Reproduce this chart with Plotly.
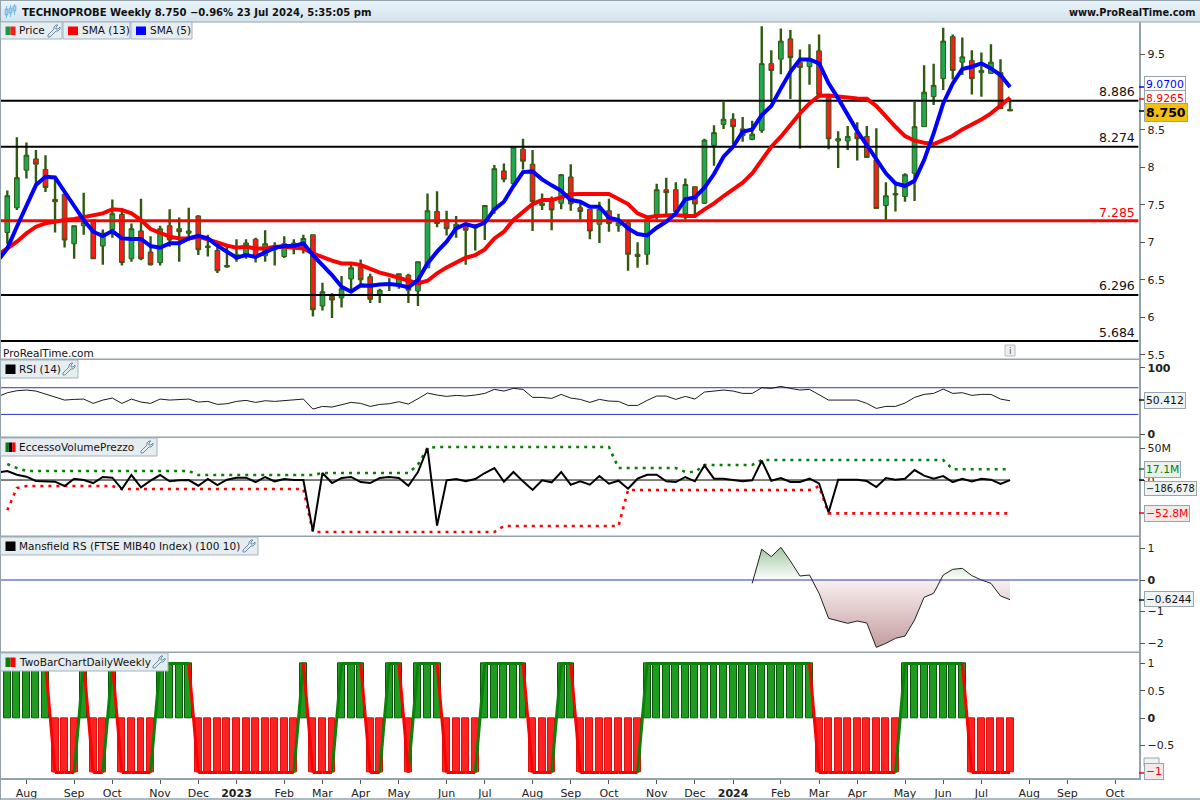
import numpy as np
import pandas as pd
import plotly.graph_objects as go
from plotly.subplots import make_subplots

FIRST_WEEK = "2022-07-18"
open_ = [7.13,7.46,7.96,8.11,7.97,7.57,7.64,6.98,7.22,7.30,
6.95,7.17,7.37,6.78,7.15,6.87,6.73,7.22,7.18,7.12,
7.35,6.93,6.89,6.67,6.78,6.84,7.04,6.82,6.90,6.81,
6.96,6.92,7.10,6.15,6.28,6.26,6.51,6.67,6.54,6.31,
6.43,6.42,6.56,6.35,6.66,7.41,7.30,7.18,7.22,7.19,
7.27,7.43,7.95,7.78,8.24,8.04,7.49,7.54,7.52,7.87,
7.46,7.44,7.24,7.42,7.22,7.26,6.84,6.84,7.36,7.70,
7.70,7.38,7.74,7.52,8.29,8.57,8.64,8.51,8.37,8.49,
9.38,9.44,9.71,9.40,9.34,9.55,8.96,8.35,8.35,8.46,
8.41,8.10,7.49,7.65,7.61,7.92,8.54,8.94,9.18,9.74,
9.40,9.42,9.26,9.25,9.26,8.77]
high = [7.69,8.40,8.33,8.23,8.16,7.87,7.64,7.22,7.66,7.30,
7.17,7.57,7.44,7.25,7.58,7.08,7.22,7.44,7.33,7.46,
7.36,7.10,6.94,6.94,7.04,7.04,7.06,7.16,7.00,7.08,
7.04,7.10,7.10,6.46,6.32,6.55,6.70,6.77,6.58,6.38,
6.52,6.58,6.58,6.74,7.65,7.68,7.42,7.35,7.26,7.24,
7.49,8.03,8.05,8.27,8.38,8.23,7.65,7.61,7.91,8.04,
7.52,7.44,7.54,7.58,7.38,7.27,7.00,7.30,7.78,7.86,
7.80,7.85,7.74,8.38,8.56,8.87,8.72,8.67,8.62,9.88,
9.56,9.85,9.83,9.57,9.64,9.77,8.96,8.48,8.55,8.60,
8.55,8.52,7.80,7.81,7.92,8.87,9.36,9.38,9.86,9.77,
9.73,9.56,9.53,9.64,9.44,8.92]
low = [6.98,7.43,7.85,7.76,7.67,7.13,6.93,6.78,7.10,6.78,
6.70,7.06,6.69,6.74,6.76,6.69,6.69,6.94,6.74,7.02,
6.83,6.81,6.59,6.66,6.74,6.78,6.73,6.74,6.69,6.79,
6.84,6.85,6.01,6.09,5.99,6.13,6.34,6.43,6.19,6.19,
6.35,6.38,6.19,6.15,6.66,7.20,7.09,7.06,6.70,6.89,
7.03,7.38,7.80,7.78,7.97,7.15,7.43,7.16,7.44,7.42,
7.30,7.04,6.99,7.14,7.14,6.62,6.66,6.70,7.30,7.36,
7.34,7.30,7.36,7.51,8.02,8.51,8.31,8.34,8.36,8.46,
8.87,9.24,8.91,8.25,9.10,8.97,8.24,7.99,8.23,8.09,
8.13,7.45,7.30,7.41,7.54,7.55,8.54,8.83,9.03,9.17,
9.23,8.97,8.94,9.25,8.78,8.75]
close = [7.62,7.86,8.16,8.04,7.73,7.54,7.03,7.22,7.26,6.78,
7.12,7.38,6.73,7.18,6.78,6.70,7.18,7.03,7.14,7.15,
6.90,6.95,6.62,6.69,6.84,6.99,6.81,6.98,6.93,6.98,
6.99,7.05,6.10,6.34,6.23,6.38,6.66,6.50,6.24,6.36,
6.45,6.58,6.36,6.74,7.42,7.25,7.18,7.24,7.16,7.22,
7.49,7.98,7.84,8.27,8.08,7.54,7.52,7.43,7.90,7.51,
7.41,7.15,7.44,7.25,7.26,6.84,6.81,7.30,7.70,7.66,
7.41,7.77,7.51,8.36,8.46,8.64,8.54,8.42,8.44,9.38,
9.29,9.68,9.46,9.33,9.43,8.97,8.38,8.38,8.41,8.38,
8.13,7.45,7.62,7.63,7.90,8.54,9.00,9.09,9.68,9.29,
9.47,9.18,9.29,9.40,8.78,8.75]
# moving averages: first value belongs to the week before the first candle
sma5 = [6.75,6.918,7.207,7.473,7.762,7.873,7.864,7.673,7.473,7.296,7.140,
7.082,7.149,7.051,7.043,7.043,6.949,6.927,6.985,6.985,7.051,
7.087,7.051,6.954,6.874,6.794,6.829,6.803,6.865,6.927,6.949,
6.949,6.985,6.829,6.696,6.563,6.407,6.341,6.425,6.421,6.438,
6.443,6.429,6.398,6.496,6.718,6.874,7.007,7.185,7.243,7.207,
7.260,7.438,7.540,7.749,7.935,7.944,7.838,7.758,7.686,7.562,
7.540,7.473,7.473,7.327,7.296,7.185,7.109,7.091,7.194,7.273,
7.384,7.571,7.598,7.726,7.909,8.140,8.273,8.473,8.504,8.695,
8.815,9.050,9.272,9.436,9.436,9.383,9.117,8.917,8.695,8.481,
8.295,8.095,7.918,7.784,7.749,7.820,8.095,8.450,8.850,9.117,
9.308,9.339,9.383,9.317,9.228,9.070]
sma13 = [6.83,6.918,7.007,7.118,7.207,7.251,7.278,7.296,7.309,7.331,7.349,
7.384,7.438,7.429,7.384,7.296,7.176,7.118,7.074,7.051,7.051,
7.074,7.029,6.998,6.954,6.927,6.940,6.918,6.918,6.940,6.940,
6.931,6.918,6.851,6.798,6.754,6.718,6.718,6.696,6.638,6.594,
6.563,6.527,6.487,6.452,6.487,6.585,6.665,6.732,6.794,6.829,
6.905,7.051,7.140,7.296,7.407,7.509,7.562,7.562,7.598,7.638,
7.642,7.642,7.651,7.642,7.576,7.509,7.384,7.331,7.349,7.362,
7.362,7.349,7.349,7.438,7.518,7.616,7.704,7.793,7.918,8.095,
8.273,8.406,8.562,8.717,8.850,8.952,8.957,8.939,8.930,8.917,
8.912,8.815,8.673,8.539,8.415,8.353,8.326,8.308,8.362,8.419,
8.504,8.566,8.637,8.717,8.815,8.9265]
levels = [8.886, 8.274, 7.285, 6.296, 5.684]
level_labels = ["8.886", "8.274", "7.285", "6.296", "5.684"]
# RSI and the volume-price line also start one week before the first candle
rsi = [56.5,62.5,65.5,66.5,65,60.5,57,51.5,52.5,53,46.5,51.5,54.5,46.5,53,48.5,46.5,53,51.5,52.5,53,
48.5,49.5,45,46,49.5,51,48,50.5,49.5,51,51.5,53,38,42,41,44,48,46.5,42,45,
46,49,45.5,53.5,62,59,57,58.5,57.5,59,61.5,67.5,65,69,67.5,55.5,55.5,54,60,54.5,
52.5,48,52.5,50,49.5,43.5,43.5,51,57.5,57.5,52.5,57,53,63.5,65,66.5,65,61.5,61.5,70,
69,72,69,66.5,67.5,59,51.5,51.5,51.5,51.5,46.5,39,42,42,47,55.5,60,61.5,68,61.5,
62.5,58.5,60,60,53,50.412]
evp = [12.1,14.3,8.4,5.3,-1.6,-2.1,-2.6,-9.5,2.1,0,-4.8,4.8,3.7,-14.3,7.9,-11.6,-1.1,7.9,-2.1,-0.5,0,
-9.0,1.6,-7.9,0.5,3.7,3.7,-3.2,4.8,-2.1,1.6,0,0,-81.3,11.1,-4.8,3.2,4.8,-3.2,-4.8,3.2,
4.8,3.2,-9.0,12.7,50.7,-72.3,-0.5,1.6,-2.1,1.6,11.1,19.0,-2.6,12.7,-2.1,-15.8,-0.5,-3.7,12.7,-7.4,
-2.1,-7.4,6.3,-5.8,-1.1,-13.7,2.1,8.4,8.4,-2.1,-3.2,4.8,-2.1,23.2,2.1,2.1,0,-2.1,-0.5,30.6,
-1.1,3.2,-3.2,-3.2,2.1,-5.3,-51.2,0.5,0.5,0.5,-1.6,-11.1,3.2,0.5,2.1,15.8,6.9,2.1,6.3,-3.2,
2.1,-2.1,2.1,0.5,-6.3,-0.187]
evp_upper = [25.3,19.0]+[14.3]*18+[7.9]*13+[11.1]*10+[24.3,50.7]+[52.3]*19+[19.0]*7+[12.7]*2+[23.8]*6+[31.7]*20+[17.1]*7
evp_lower = [-48.0,-12.7]+[-9.5]*10+[-14.3]*20+[-82.4]*20+[-72.9]*13+[-15.8]*20+[-10.0]+[-52.8]*20
mansfield_first_week = 78
mansfield = [-0.106,0.974,0.741,1.037,0.603,0.127,0.159,-0.423,-1.217,-1.302,-1.376,-1.302,-1.365,-2.138,
-2.011,-1.852,-1.778,-1.270,-0.550,-0.423,0.159,0.339,0.370,0.138,0,-0.106,-0.508,-0.6244]
two_bar = [1]*5+[-1]*3+[1]+[-1]*2+[1]+[-1]*4+[1]*4+[-1]*11+[1]+[-1]*3+[1]*3+[-1]*2+[1]*2+[-1]+[1]*3+[-1]*4+[1]*5+[-1]*3+[1]*2+[-1]*7+[1]*18+[-1]*9+[1]*7+[-1]*5
month_ticks = ["2022-08-01","2022-09-05","2022-10-03","2022-11-07","2022-12-05","2023-01-02","2023-02-06","2023-03-06",
"2023-04-03","2023-05-01","2023-06-05","2023-07-03","2023-08-07","2023-09-04","2023-10-02","2023-11-06","2023-12-04",
"2024-01-01","2024-02-05","2024-03-04","2024-04-01","2024-05-06","2024-06-03","2024-07-01","2024-08-05","2024-09-02","2024-10-07"]
month_labels = ["Aug","Sep","Oct","Nov","Dec","<b>2023</b>","Feb","Mar","Apr","May","Jun","Jul","Aug","Sep","Oct","Nov","Dec",
"<b>2024</b>","Feb","Mar","Apr","May","Jun","Jul","Aug","Sep","Oct"]

FONT = "DejaVu Sans"
W, H = 1200, 800
FIG_H = 804
def fx(p): return p / W
def fy(p): return 1 - p / H

dates = pd.date_range(FIRST_WEEK, periods=len(close), freq="7D")
lead_dates = pd.date_range(dates[0] - pd.Timedelta(days=7), periods=len(sma5), freq="7D")
week_px = 9.55
day0 = dates[0]
x_left = day0 - pd.Timedelta(days=7 * (7.3 - 1.0) / week_px)
x_right = day0 + pd.Timedelta(days=7 * (1138.6 - 7.3) / week_px)

fig = make_subplots(rows=5, cols=1, shared_xaxes=True)

# price panel
o, h, l, c = map(np.array, (open_, high, low, close))
top = np.maximum(o, c); bot = np.minimum(o, c)
wx, wy = [], []
for d, hi, lo, t, b in zip(dates, h, l, top, bot):
    wx += [d, d, None, d, d, None]
    wy += [hi, t, None, b, lo, None]
WICK = "#2f5a10"
fig.add_trace(go.Candlestick(x=dates, open=o, high=top, low=bot, close=c, whiskerwidth=0,
    increasing=dict(fillcolor="#1fa84f", line=dict(color=WICK, width=1)),
    decreasing=dict(fillcolor="#ff1a1a", line=dict(color=WICK, width=1)), showlegend=False), row=1, col=1)
fig.add_trace(go.Scatter(x=wx, y=wy, mode="lines", line=dict(color=WICK, width=2.4), showlegend=False), row=1, col=1)
for lv in levels:
    fig.add_trace(go.Scatter(x=[x_left, x_right], y=[lv, lv], mode="lines",
        line=dict(color="#ff0000" if lv == 7.285 else "#000000", width=3 if lv == 7.285 else 2), showlegend=False), row=1, col=1)
fig.add_trace(go.Scatter(x=lead_dates, y=sma13, mode="lines", line=dict(color="#ff0000", width=4), showlegend=False), row=1, col=1)
fig.add_trace(go.Scatter(x=lead_dates, y=sma5, mode="lines", line=dict(color="#0000ff", width=4), showlegend=False), row=1, col=1)

# RSI panel
for lv in (70, 30):
    fig.add_trace(go.Scatter(x=[x_left, x_right], y=[lv, lv], mode="lines", line=dict(color="#2b35c8", width=1), showlegend=False), row=2, col=1)
fig.add_trace(go.Scatter(x=lead_dates, y=rsi, mode="lines", line=dict(color="#000000", width=0.9), showlegend=False), row=2, col=1)

# volume-price excess panel
fig.add_trace(go.Scatter(x=[x_left, dates[-1]], y=[0, 0], mode="lines", line=dict(color="#000000", width=1), showlegend=False), row=3, col=1)
fig.add_trace(go.Scatter(x=dates, y=evp_upper, mode="lines", line=dict(color="#0a7d0a", width=2.6, dash="3px,5px"), showlegend=False), row=3, col=1)
fig.add_trace(go.Scatter(x=dates, y=evp_lower, mode="lines", line=dict(color="#ff0000", width=2.6, dash="3px,5px"), showlegend=False), row=3, col=1)
fig.add_trace(go.Scatter(x=lead_dates, y=evp, mode="lines", line=dict(color="#000000", width=2), showlegend=False), row=3, col=1)

# Mansfield panel
mdates = dates[mansfield_first_week:]
m = np.array(mansfield)
fig.add_trace(go.Scatter(x=mdates, y=np.maximum(m, 0), mode="none", fill="tozeroy",
    fillgradient=dict(type="vertical", start=0, stop=1.05, colorscale=[[0, "#ffffff"], [1, "#9fc8a0"]]), showlegend=False), row=4, col=1)
fig.add_trace(go.Scatter(x=mdates, y=np.minimum(m, 0), mode="none", fill="tozeroy",
    fillgradient=dict(type="vertical", start=-2.15, stop=0, colorscale=[[0, "#c49b9b"], [1, "#f8f0f0"]]), showlegend=False), row=4, col=1)
fig.add_trace(go.Scatter(x=[x_left, x_right], y=[0, 0], mode="lines", line=dict(color="#2b35c8", width=1), showlegend=False), row=4, col=1)
fig.add_trace(go.Scatter(x=mdates, y=m, mode="lines", line=dict(color="#222222", width=1), showlegend=False), row=4, col=1)

# two-bar panel
tb = np.array(two_bar)
fig.add_trace(go.Bar(x=dates, y=tb, width=0.73 * 7 * 86400000,
    marker=dict(color=np.where(tb > 0, "#1f9c1f", "#ff2222"),
                line=dict(color=np.where(tb > 0, "#0b540b", "#dd1010"), width=1)), showlegend=False), row=5, col=1)
gx, gy, rx, ry = [], [], [], []
for i in range(1, len(tb)):
    if tb[i] > 0:
        gx += [dates[i-1], dates[i], None]; gy += [tb[i-1], tb[i], None]
    else:
        rx += [dates[i-1], dates[i], None]; ry += [tb[i-1], tb[i], None]
fig.add_trace(go.Scatter(x=gx, y=gy, mode="lines", line=dict(color="#0a820a", width=3), showlegend=False), row=5, col=1)
fig.add_trace(go.Scatter(x=rx, y=ry, mode="lines", line=dict(color="#ff0000", width=3), showlegend=False), row=5, col=1)

GRID = "#94a3ab"
panels = [(22, 359.3), (359.3, 437.3), (437.3, 536.3), (536.3, 652.3), (652.3, 778.3)]
ranges = [(5.440, 9.935), (-4.3, 112.6), (-89.2, 67.7), (-2.295, 1.387), (-1.106, 1.205)]
ytv = [[9.5, 8.5, 8, 7.5, 7, 6.5, 6, 5.5], [100, 0], [50, 0], [1, 0, -1, -2], [1, 0.5, 0, -0.5]]
ytt = [["9.5", "8.5", "8", "7.5", "7", "6.5", "6", "5.5"], ["<b>100</b>", "<b>0</b>"], ["50M", "0"],
       ["1", "<b>0</b>", "−1", "−2"], ["1", "0.5", "<b>0</b>", "−0.5"]]
for i in range(5):
    a, b = panels[i]
    fig.update_yaxes(row=i+1, col=1, domain=[fy(b), fy(a)], range=list(ranges[i]), side="right",
        tickmode="array", tickvals=ytv[i], ticktext=ytt[i], ticks="outside", ticklen=5, tickcolor="#555555",
        tickfont=dict(family=FONT, size=11, color="#222222"), showgrid=False, zeroline=False,
        showline=True, linecolor=GRID, linewidth=1.5, fixedrange=True)
    fig.update_xaxes(row=i+1, col=1, domain=[fx(1), fx(1138.6)], range=[x_left, x_right], showgrid=False,
        zeroline=False, showline=False, rangeslider=dict(visible=False), fixedrange=True,
        showticklabels=False, ticks="")
fig.update_xaxes(row=5, col=1, showticklabels=True, showline=True, linecolor=GRID, linewidth=1.5, ticks="outside",
    ticklen=4, tickcolor="#555555", tickmode="array", tickvals=month_ticks, ticktext=month_labels,
    tickfont=dict(family=FONT, size=11, color="#222222"))

shapes, ann = [], []
def rect(x0, y0, x1, y1, fill=None, line=None, lw=1):
    shapes.append(dict(type="rect", xref="paper", yref="paper", x0=fx(x0), x1=fx(x1), y0=fy(y0), y1=fy(y1),
        fillcolor=fill or "rgba(0,0,0,0)", line=dict(color=line or "rgba(0,0,0,0)", width=lw if line else 0), layer="above"))
def hline(x0, x1, y, color, lw=1):
    shapes.append(dict(type="line", xref="paper", yref="paper", x0=fx(x0), x1=fx(x1), y0=fy(y), y1=fy(y),
        line=dict(color=color, width=lw), layer="above"))
def text(x, y, s, size=11, color="#111111", anchor="left", **kw):
    ann.append(dict(xref="paper", yref="paper", x=fx(x), y=fy(y), text=s, showarrow=False, xanchor=anchor, yanchor="middle",
        font=dict(family=FONT, size=size, color=color), **kw))
def wrench(x, y):
    pts = [(0,10),(6,4),(6,2),(8,0),(10,0),(8,2),(8,4),(10,4),(12,2),(12,4),(10,6),(8,6),(2,12),(0,12)]
    p = "M " + " L ".join(f"{fx(x+a):.5f},{fy(y+b):.5f}" for a, b in pts) + " Z"
    shapes.append(dict(type="path", xref="paper", yref="paper", path=p, line=dict(color="#6c8ba3", width=1), fillcolor="rgba(0,0,0,0)", layer="above"))

# title strip
steps = 11
for k in range(steps):
    t = k / (steps - 1)
    col = "rgb(%d,%d,%d)" % (232 - 18 * t, 244 - 16 * t, 249 - 12 * t)
    rect(0, k * 2, W, k * 2 + 2, fill=col)
hline(0, W, 0.5, GRID, 1); hline(0, W, 22, GRID, 1)
for xi, y0, y1, b0, b1 in [(6.5, 6, 18, 9, 15), (10.5, 5, 17, 8, 13), (14.5, 4, 15, 6, 11)]:
    rect(xi - 0.4, y0, xi + 0.4, y1, fill="#64aee0")
    rect(xi - 1.4, b0, xi + 1.4, b1, fill="#9fd3f2", line="#4f9bd1", lw=0.6)
text(20, 12, "<b>TECHNOPROBE Weekly 8.750 −0.96% 23 Jul 2024, 5:35:05 pm</b>", size=10.06, color="#111111")
text(1198, 12, "<b>www.ProRealTime.com</b>", size=9.8, anchor="right")

# panel separators and frame
for _, b in panels[:-1]:
    hline(0, 1139, b, GRID, 1.5)
hline(0, W, 799, GRID, 1.5)
shapes.append(dict(type="line", xref="paper", yref="paper", x0=fx(0.5), x1=fx(0.5), y0=0, y1=1, line=dict(color=GRID, width=1), layer="above"))

BOX = "#e6edf1"; EDGE = "#a3b3bc"
def tab(x0, x1, y0, y1, swatch, label, wrench_x=None):
    rect(x0, y0, x1, y1, fill=BOX, line=EDGE)
    n = len(swatch)
    sx = x0 + 5; sw = 10
    for j, col in enumerate(swatch):
        rect(sx + j * sw / n, y0 + 4.5, sx + (j + 1) * sw / n, y1 - 4, fill=col)
    text(sx + sw + 1.5, (y0 + y1) / 2, label, size=10.5)
    if wrench_x is not None:
        wrench(wrench_x, y0 + 3)
tab(0.5, 62, 22, 39, ["#1a9a3c", "#ff1a1a"], "Price", 48)
tab(63, 130, 22, 39, ["#ff0000"], "SMA (13)")
tab(131, 192, 22, 39, ["#0000ff"], "SMA (5)")
tab(0.5, 78, 360, 378, ["#000000"], "RSI (14)", 63)
tab(0.5, 157, 438, 456, ["#0a7d0a", "#000000", "#ff0000"], "EccessoVolumePrezzo", 141)
tab(0.5, 258, 537, 555, ["#000000"], "Mansfield RS (FTSE MIB40 Index) (100 10)", 243)
tab(0.5, 168, 653, 671, ["#0a7d0a", "#ff0000"], "TwoBarChartDailyWeekly", 153)

text(1, 353, "ProRealTime.com", size=10.5)
rect(1005, 345, 1015, 356, fill="#eeeeee", line="#bbbbbb")
text(1010, 350.5, "i", size=9, color="#555555", anchor="center")

# level labels
py = [100.7, 146.7, 221.3, 294.7, 341]
for lbl, p in zip(level_labels, py):
    text(1137, p - 9, lbl, size=12.5, color="#ff0000" if lbl == "7.285" else "#111111", anchor="right")

def tag(y, s, color="#111111", bg="#f0f3f4", size=10.8, tick=None):
    text(1144, y, s, size=size, color=color, bgcolor=bg, bordercolor="#97a6ae", borderwidth=1, borderpad=1)
    if tick is not None:
        hline(1139, 1144, tick, color, 1.5)
tag(85, "9.0700", "#0000ff", "#ffffff", tick=87)
tag(98, "8.9265", "#ff0000", "#ffffff", tick=99)
tag(112.5, "<b>8.750</b>", "#000000", "#f5bf0f", size=12.5, tick=111)
tag(400, "50.412", tick=400)
tag(469, "17.1M", "#0a7d0a", "#e9f1ea", tick=469)
tag(488, "−186,678", size=9.8, tick=480)
tag(513, "−52.8M", "#ff0000", "#f3e9e9", tick=513)
tag(599, "−0.6244", size=10.5, tick=600)
rect(1144, 758, 1159, 766, fill="#f0f3f4", line="#97a6ae")
tag(771.5, "−1", "#ff0000", "#f3e9e9", tick=773)

fig.update_layout(width=W, height=FIG_H, margin=dict(l=0, r=0, t=0, b=0), paper_bgcolor="#ffffff", plot_bgcolor="#ffffff",
    barmode="overlay", bargap=0, showlegend=False, shapes=shapes, annotations=ann, hovermode=False, boxgap=0.3,
    font=dict(family=FONT))
fig.write_html("out.html", config=dict(displayModeBar=False),
    post_script="document.body.style.margin='0';document.documentElement.style.overflow='hidden';")
